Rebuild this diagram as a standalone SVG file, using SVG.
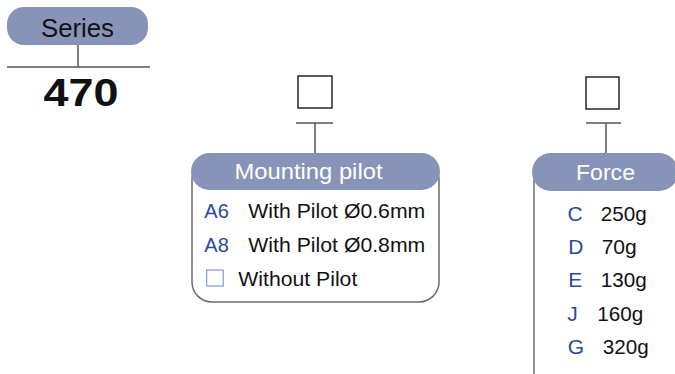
<svg xmlns="http://www.w3.org/2000/svg" width="675" height="374" viewBox="0 0 675 374">
<style>
.pill{fill:#8794b8}
.box{fill:#fff;stroke:#6b6b6b;stroke-width:1.5}
.ln{stroke:#555;stroke-width:1.5;fill:none}
.sq{fill:#fff;stroke:#2b2424;stroke-width:1.5}
.t{font-family:"Liberation Sans",Arial,sans-serif;font-size:20px;fill:#111}
.f{font-size:21px}
.c{fill:#2a4a9e}
.h{font-family:"Liberation Sans",Arial,sans-serif;font-size:22px;fill:#fff}
</style>
<rect width="675" height="374" fill="#fff"/>
<g id="series">
<rect class="pill" x="7" y="7" width="141" height="38" rx="17"/>
<text x="41" y="36.5" font-family="Liberation Sans,Arial,sans-serif" font-size="25" fill="#111" textLength="73" lengthAdjust="spacingAndGlyphs">Series</text>
<text x="43.5" y="106" font-family="Liberation Sans,Arial,sans-serif" font-size="39" font-weight="bold" fill="#111" textLength="75" lengthAdjust="spacingAndGlyphs">470</text>
</g>
<g id="connectors">
<line class="ln" x1="78" y1="45" x2="78" y2="67"/>
<line class="ln" x1="7" y1="67" x2="150" y2="67"/>
<line class="ln" x1="296" y1="123" x2="333" y2="123"/>
<line class="ln" x1="315" y1="123" x2="315" y2="153"/>
<line class="ln" x1="586" y1="123" x2="621" y2="123"/>
<line class="ln" x1="606" y1="123" x2="606" y2="153"/>
</g>
<g id="mounting-pilot">
<rect class="sq" x="298" y="76" width="34" height="32"/>
<rect class="box" x="192" y="160" width="247" height="142" rx="20"/>
<rect class="pill" x="191" y="153" width="249" height="37" rx="18.5"/>
<text class="h" x="234.5" y="178.5" textLength="148" lengthAdjust="spacingAndGlyphs">Mounting pilot</text>
<text class="t c" x="204.3" y="218.3">A6</text>
<text class="t" x="248.3" y="218.3" textLength="177" lengthAdjust="spacingAndGlyphs">With Pilot Ø0.6mm</text>
<text class="t c" x="204.3" y="251.7">A8</text>
<text class="t" x="248.3" y="251.7" textLength="177" lengthAdjust="spacingAndGlyphs">With Pilot Ø0.8mm</text>
<rect x="206.7" y="270" width="16.5" height="16" fill="#fff" stroke="#6a86c6" stroke-width="1"/>
<text class="t" x="238.3" y="285.7" textLength="119" lengthAdjust="spacingAndGlyphs">Without Pilot</text>
</g>
<g id="force">
<rect class="sq" x="586" y="77" width="33" height="32"/>
<rect class="box" x="534" y="160" width="142" height="240" rx="22"/>
<rect class="pill" x="532" y="153" width="146" height="38" rx="19"/>
<text class="h" x="576" y="180" textLength="59" lengthAdjust="spacingAndGlyphs">Force</text>
<text class="t f c" x="567.5" y="220.7">C</text>
<text class="t f" x="600.7" y="220.7" textLength="46" lengthAdjust="spacingAndGlyphs">250g</text>
<text class="t f c" x="568.3" y="254">D</text>
<text class="t f" x="601.7" y="254">70g</text>
<text class="t f c" x="568.3" y="287.3">E</text>
<text class="t f" x="600.7" y="287.3" textLength="46" lengthAdjust="spacingAndGlyphs">130g</text>
<text class="t f c" x="567.3" y="321">J</text>
<text class="t f" x="597.3" y="321" textLength="46" lengthAdjust="spacingAndGlyphs">160g</text>
<text class="t f c" x="567.7" y="354.3">G</text>
<text class="t f" x="602.7" y="354.3" textLength="46" lengthAdjust="spacingAndGlyphs">320g</text>
</g>
</svg>
